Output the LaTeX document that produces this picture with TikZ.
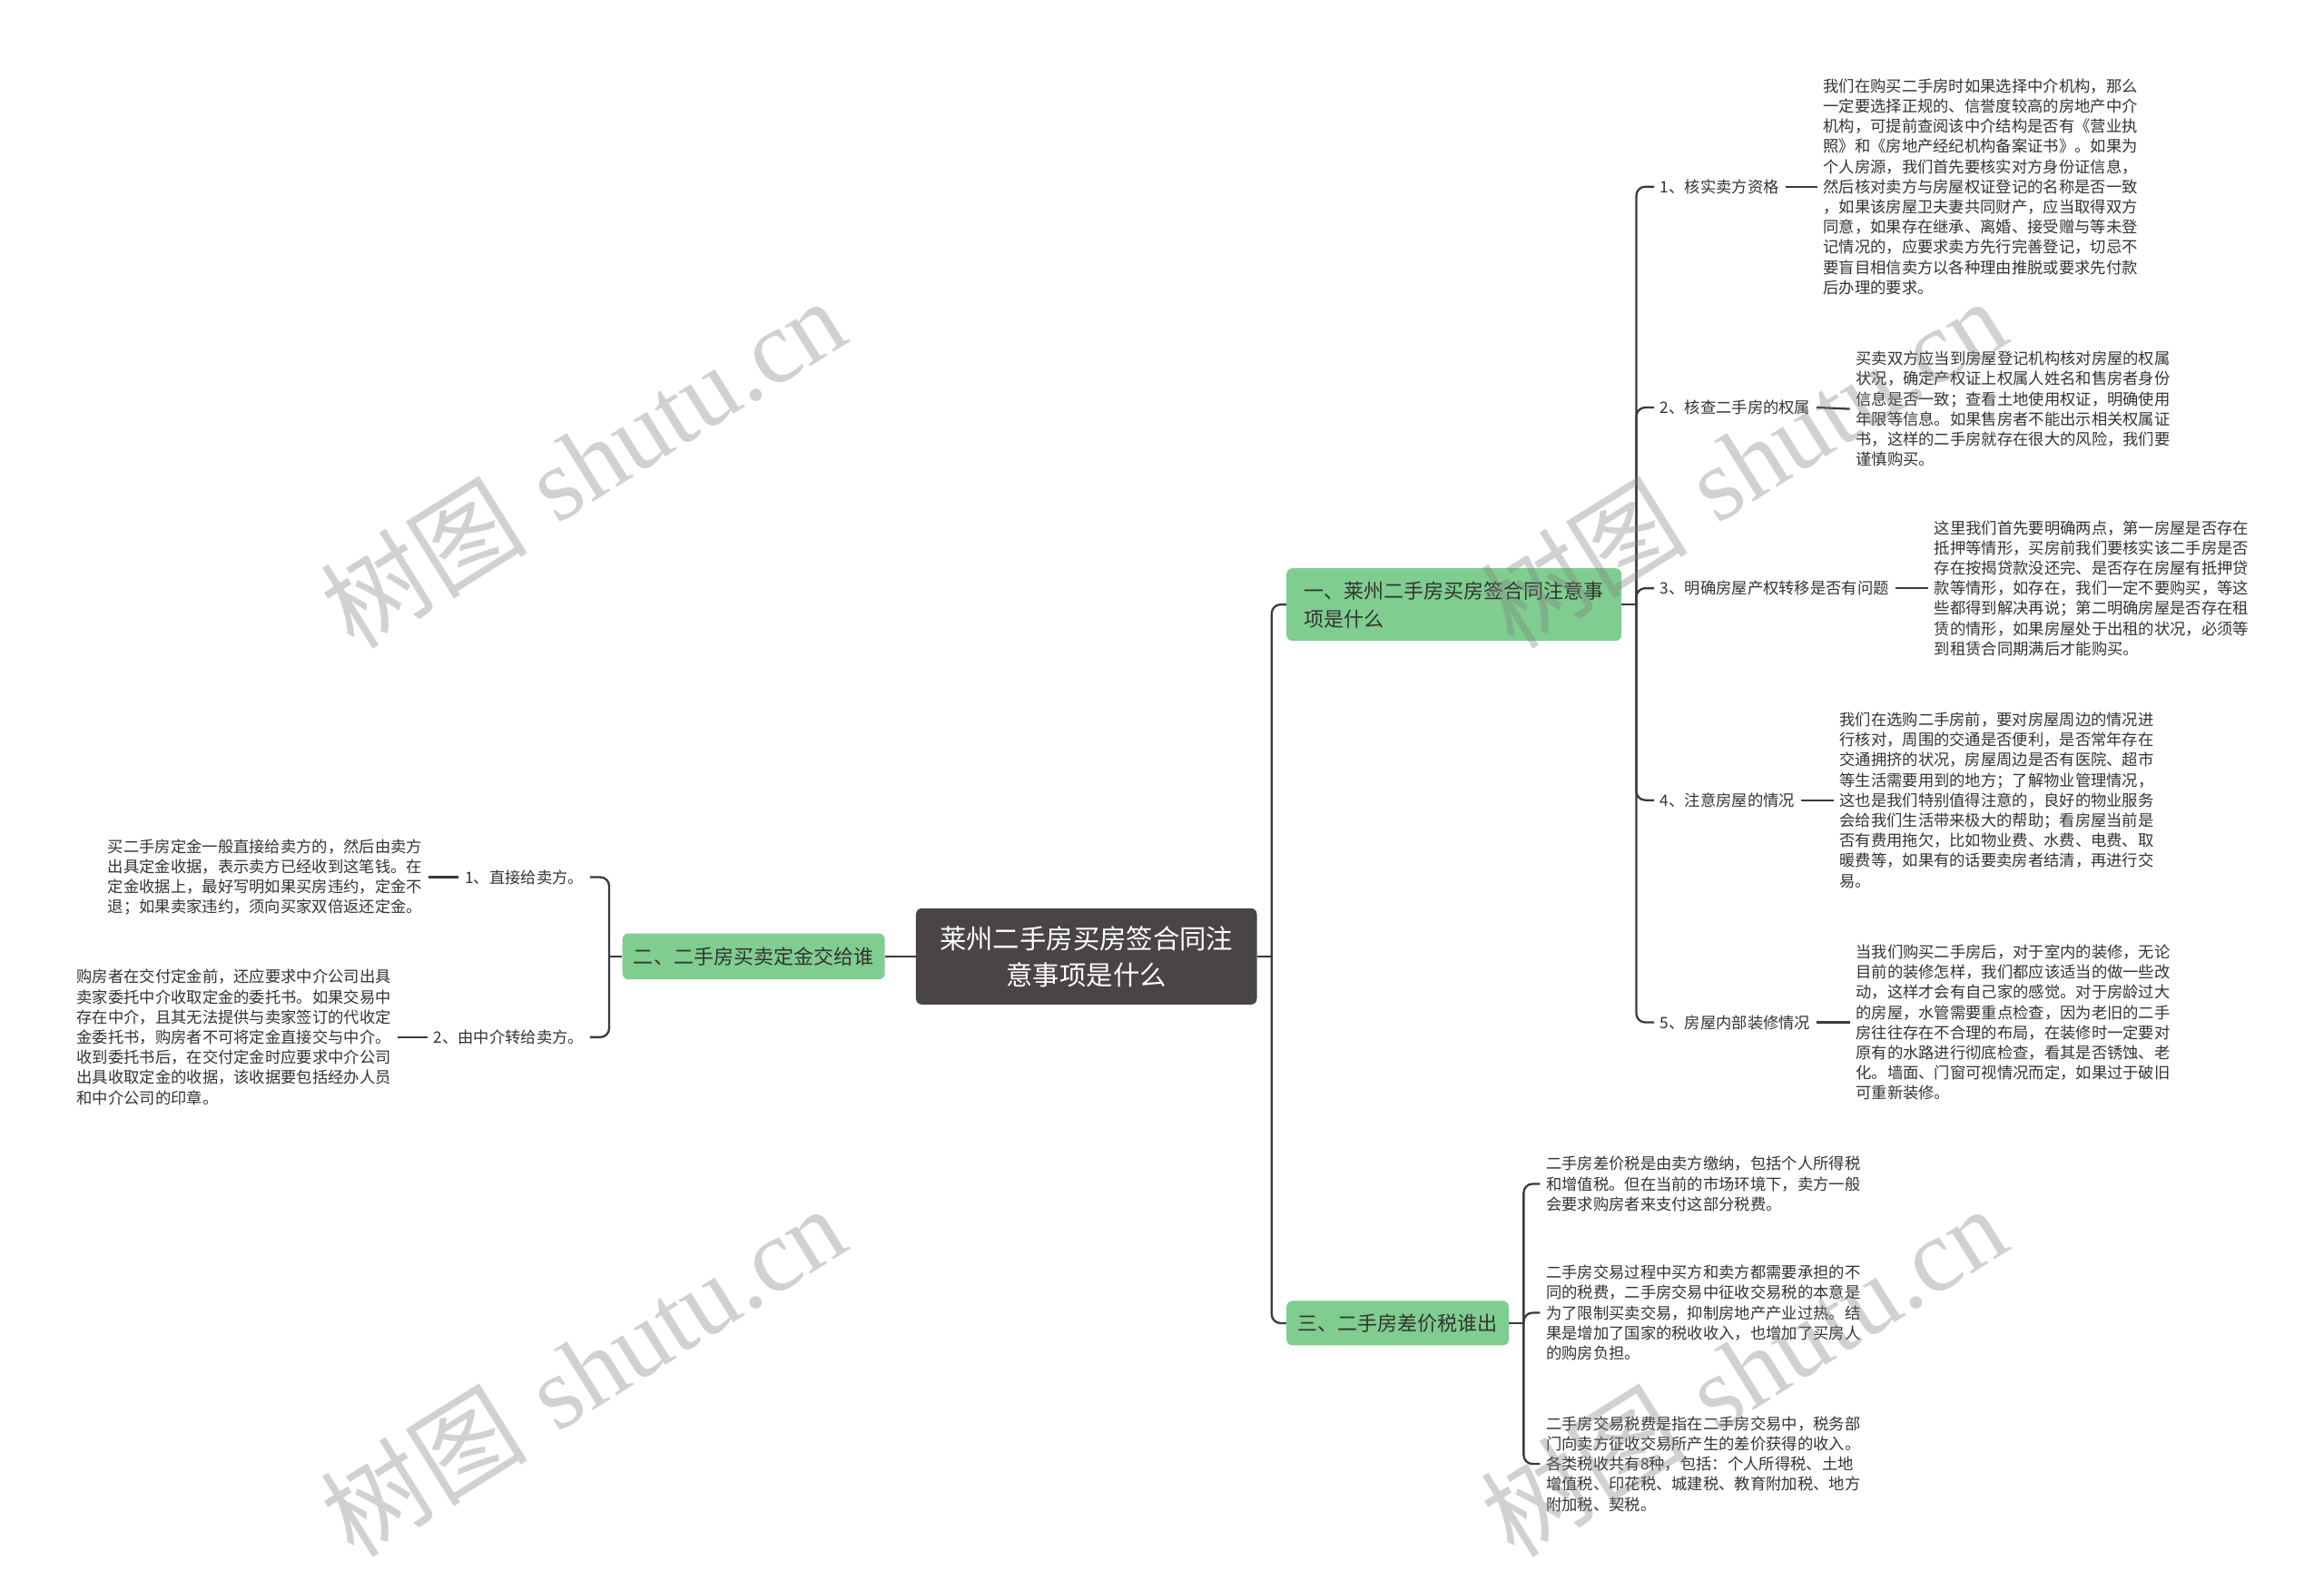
\documentclass[tikz,border=0pt]{standalone}
\usepackage{fontspec}
\newfontfamily\cjk{Noto Sans CJK SC}
\newfontfamily\wmserif{Liberation Serif}
\definecolor{grn}{HTML}{7FCD8F}
\definecolor{rootfill}{HTML}{4A4545}
\definecolor{txt}{HTML}{333333}
\definecolor{linec}{HTML}{3A3A3A}
\begin{document}
\begin{tikzpicture}[x=1pt,y=-1pt,
  leaf/.style={font=\cjk\fontsize{10.6}{13.6}\selectfont, text=txt, align=left, inner xsep=4pt, inner ysep=2pt},
  branch/.style={fill=grn, rounded corners=4pt, text=txt, font=\cjk\fontsize{13.5}{19}\selectfont, align=left, inner sep=0pt},
  rootbox/.style={fill=rootfill, rounded corners=4pt, text=white, font=\cjk\fontsize{18}{24.5}\selectfont, align=center, inner sep=0pt, minimum width=230pt, minimum height=65pt},
  conn/.style={draw=linec, line width=1.4pt, rounded corners=6pt},
  wm/.style={font=\fontsize{70}{74}\selectfont, text=gray, opacity=0.36, rotate=32}
]
\useasboundingbox (0,0) rectangle (1568,1073);
\fill[white] (0,0) rectangle (1568,1073);

% root and branches
\node[rootbox] (root) at (733,645.5) {莱州二手房买房签合同注\\意事项是什么};
\node[branch, minimum width=226pt, minimum height=49pt] (b1) at (981,408) {一、莱州二手房买房签合同注意事\\项是什么};
\node[branch, minimum width=177pt, minimum height=31pt] (b2) at (508.5,645.5) {二、二手房买卖定金交给谁};
\node[branch, minimum width=150pt, minimum height=30pt] (b3) at (943,893) {三、二手房差价税谁出};

\coordinate (j1) at (858,645.5);
\coordinate (j2) at (1104,408);
\coordinate (j3) at (411,645.5);
\coordinate (j4) at (1028,893);

% branch 1 children
\node[leaf, anchor=west] (L1) at (1116,126) {1、核实卖方资格};
\node[leaf, anchor=west] (L2) at (1116,275) {2、核查二手房的权属};
\node[leaf, anchor=west] (L3) at (1116,397) {3、明确房屋产权转移是否有问题};
\node[leaf, anchor=west] (L4) at (1116,540) {4、注意房屋的情况};
\node[leaf, anchor=west] (L5) at (1116,690) {5、房屋内部装修情况};

\node[leaf, anchor=west] (T1) at (1226,126) {我们在购买二手房时如果选择中介机构，那么\\一定要选择正规的、信誉度较高的房地产中介\\机构，可提前查阅该中介结构是否有《营业执\\照》和《房地产经纪机构备案证书》。如果为\\个人房源，我们首先要核实对方身份证信息，\\然后核对卖方与房屋权证登记的名称是否一致\\，如果该房屋卫夫妻共同财产，应当取得双方\\同意，如果存在继承、离婚、接受赠与等未登\\记情况的，应要求卖方先行完善登记，切忌不\\要盲目相信卖方以各种理由推脱或要求先付款\\后办理的要求。};
\node[leaf, anchor=west] (T2) at (1248,276) {买卖双方应当到房屋登记机构核对房屋的权属\\状况，确定产权证上权属人姓名和售房者身份\\信息是否一致；查看土地使用权证，明确使用\\年限等信息。如果售房者不能出示相关权属证\\书，这样的二手房就存在很大的风险，我们要\\谨慎购买。};
\node[leaf, anchor=west] (T3) at (1301,397) {这里我们首先要明确两点，第一房屋是否存在\\抵押等情形，买房前我们要核实该二手房是否\\存在按揭贷款没还完、是否存在房屋有抵押贷\\款等情形，如存在，我们一定不要购买，等这\\些都得到解决再说；第二明确房屋是否存在租\\赁的情形，如果房屋处于出租的状况，必须等\\到租赁合同期满后才能购买。};
\node[leaf, anchor=west] (T4) at (1237,540) {我们在选购二手房前，要对房屋周边的情况进\\行核对，周围的交通是否便利，是否常年存在\\交通拥挤的状况，房屋周边是否有医院、超市\\等生活需要用到的地方；了解物业管理情况，\\这也是我们特别值得注意的，良好的物业服务\\会给我们生活带来极大的帮助；看房屋当前是\\否有费用拖欠，比如物业费、水费、电费、取\\暖费等，如果有的话要卖房者结清，再进行交\\易。};
\node[leaf, anchor=west] (T5) at (1248,690) {当我们购买二手房后，对于室内的装修，无论\\目前的装修怎样，我们都应该适当的做一些改\\动，这样才会有自己家的感觉。对于房龄过大\\的房屋，水管需要重点检查，因为老旧的二手\\房往往存在不合理的布局，在装修时一定要对\\原有的水路进行彻底检查，看其是否锈蚀、老\\化。墙面、门窗可视情况而定，如果过于破旧\\可重新装修。};

% branch 3 children
\node[leaf, anchor=west] (T6) at (1039,799) {二手房差价税是由卖方缴纳，包括个人所得税\\和增值税。但在当前的市场环境下，卖方一般\\会要求购房者来支付这部分税费。};
\node[leaf, anchor=west] (T7) at (1039,886) {二手房交易过程中买方和卖方都需要承担的不\\同的税费，二手房交易中征收交易税的本意是\\为了限制买卖交易，抑制房地产产业过热。结\\果是增加了国家的税收收入，也增加了买房人\\的购房负担。};
\node[leaf, anchor=west] (T8) at (1039,988) {二手房交易税费是指在二手房交易中，税务部\\门向卖方征收交易所产生的差价获得的收入。\\各类税收共有8种，包括：个人所得税、土地\\增值税、印花税、城建税、教育附加税、地方\\附加税、契税。};

% branch 2 children
\node[leaf, anchor=east] (LL1) at (398,592) {1、直接给卖方。};
\node[leaf, anchor=east] (LL2) at (398,700) {2、由中介转给卖方。};
\node[leaf, anchor=east] (LT1) at (289,592) {买二手房定金一般直接给卖方的，然后由卖方\\出具定金收据，表示卖方已经收到这笔钱。在\\定金收据上，最好写明如果买房违约，定金不\\退；如果卖家违约，须向买家双倍返还定金。};
\node[leaf, anchor=east] (LT2) at (268,700) {购房者在交付定金前，还应要求中介公司出具\\卖家委托中介收取定金的委托书。如果交易中\\存在中介，且其无法提供与卖家签订的代收定\\金委托书，购房者不可将定金直接交与中介。\\收到委托书后，在交付定金时应要求中介公司\\出具收取定金的收据，该收据要包括经办人员\\和中介公司的印章。};

% connectors
\draw[conn] (root.east) -- (j1);
\draw[conn] (j1) |- (b1.west);
\draw[conn] (j1) |- (b3.west);
\draw[conn] (root.west) -- (b2.east);
\draw[conn] (b2.west) -- (j3);
\draw[conn] (j3) |- (LL1.east);
\draw[conn] (j3) |- (LL2.east);
\draw[conn] (LL1.west) -- (LT1.east);
\draw[conn] (LL2.west) -- (LT2.east);
\draw[conn] (b1.east) -- (j2);
\foreach \n in {L1,L2,L3,L4,L5} { \draw[conn] (j2) |- (\n.west); }
\draw[conn] (L1.east) -- (T1.west);
\draw[conn] (L2.east) -- (T2.west);
\draw[conn] (L3.east) -- (T3.west);
\draw[conn] (L4.east) -- (T4.west);
\draw[conn] (L5.east) -- (T5.west);
\draw[conn] (b3.east) -- (j4);
\foreach \n in {T6,T7,T8} { \draw[conn] (j4) |- (\n.west); }

% watermarks
\node[wm] (w1) at (393,312) {{\cjk 树图} {\wmserif shutu.cn}};
\node[wm] (w2) at (1176,312) {{\cjk 树图} {\wmserif shutu.cn}};
\node[wm] (w3) at (393,925) {{\cjk 树图} {\wmserif shutu.cn}};
\node[wm] (w4) at (1176,925) {{\cjk 树图} {\wmserif shutu.cn}};
\end{tikzpicture}
\end{document}
